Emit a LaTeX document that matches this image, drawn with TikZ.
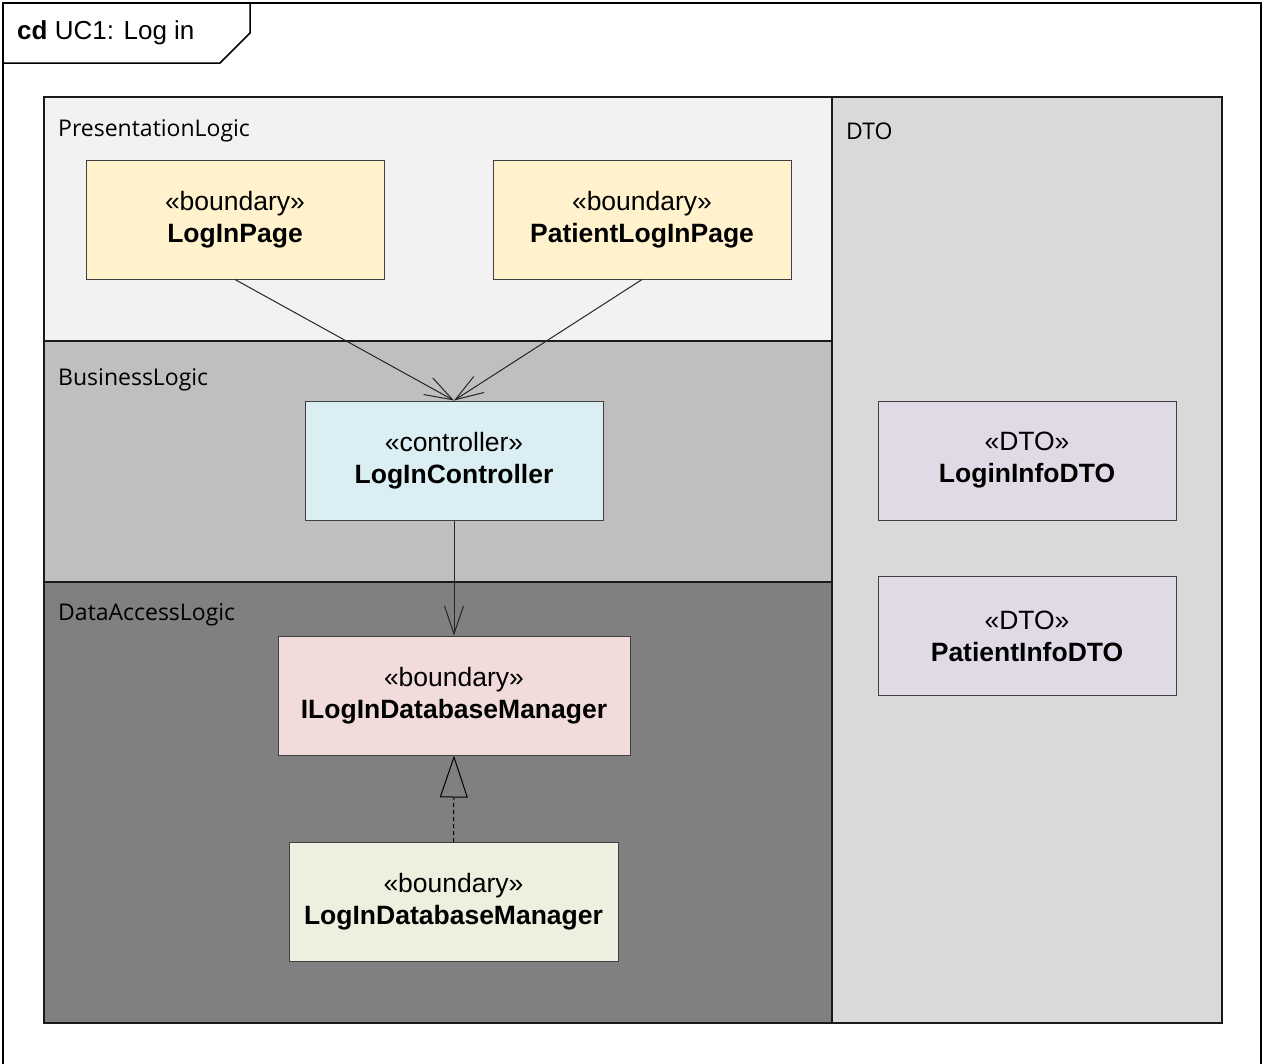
\documentclass[tikz,border=0pt]{standalone}
\usepackage{fontspec}
\setmainfont{Liberation Sans}
\newfontfamily\pkgfont{Open Sans}
\usetikzlibrary{arrows.meta}
\definecolor{presbg}{HTML}{F2F2F2}
\definecolor{busbg}{HTML}{BFBFBF}
\definecolor{databg}{HTML}{808080}
\definecolor{dtobg}{HTML}{D9D9D9}
\definecolor{yellowbox}{HTML}{FFF2CC}
\definecolor{bluebox}{HTML}{DAEEF3}
\definecolor{pinkbox}{HTML}{F2DCDB}
\definecolor{greenbox}{HTML}{EBF1DE}
\definecolor{lilacbox}{HTML}{E0DAE7}
\definecolor{pkgline}{HTML}{1A1A1A}
\definecolor{boxline}{HTML}{404040}
\tikzset{
  pkg/.style={draw=pkgline, line width=2.5pt},
  pkglabel/.style={anchor=west, inner sep=0pt, font=\pkgfont\fontsize{23}{27}\selectfont},
  classbox/.style={draw=boxline, line width=1pt, minimum width=#1, minimum height=119pt, inner sep=0pt, align=center, font=\fontsize{26.5}{32}\selectfont},
  dep/.style={draw=black!85, line width=1pt, -{Straight Barb[length=28pt,width=19pt,line width=1pt]}},
  real/.style={draw=black, line width=1pt, dashed, dash pattern=on 4pt off 3pt, -{Triangle[open, length=42pt, width=28pt, line width=1pt, fill=databg]}}
}
\begin{document}
\begin{tikzpicture}[x=1pt,y=-1pt]
\useasboundingbox (0,0) rectangle (1265,1063);
\fill[white] (0,0) rectangle (1265,1063);
% outer frame
\draw[line width=1.5pt] (3,1075) -- (3,3) -- (1261,3) -- (1261,1075);
\draw[line width=1.5pt] (3,63) -- (220,63) -- (250,33) -- (250,3);
\node[anchor=west, inner sep=0pt, font=\fontsize{26}{30}\selectfont] (title) at (17,33) {\textbf{cd} UC1: Log in};
% packages
\filldraw[pkg, fill=presbg] (44,97) rectangle (832,341);
\filldraw[pkg, fill=busbg] (44,341) rectangle (832,582);
\filldraw[pkg, fill=databg] (44,582) rectangle (832,1023);
\filldraw[pkg, fill=dtobg] (832,97) rectangle (1222,1023);
\node[pkglabel] (plabel) at (58,131) {PresentationLogic};
\node[pkglabel] (blabel) at (58,380) {BusinessLogic};
\node[pkglabel] (dlabel) at (58,615) {DataAccessLogic};
\node[pkglabel] (dtolabel) at (846,131) {DTO};
% classes
\node[classbox=298pt, fill=yellowbox] (loginpage) at (235,219.5) {«boundary»\\\textbf{LogInPage}};
\node[classbox=298pt, fill=yellowbox] (patientpage) at (642,219.5) {«boundary»\\\textbf{PatientLogInPage}};
\node[classbox=298pt, fill=bluebox] (controller) at (454,460.5) {«controller»\\\textbf{LogInController}};
\node[classbox=352pt, fill=pinkbox] (ilogdb) at (454,695.5) {«boundary»\\\textbf{ILogInDatabaseManager}};
\node[classbox=329pt, fill=greenbox] (logdb) at (453.5,902) {«boundary»\\\textbf{LogInDatabaseManager}};
\node[classbox=298pt, fill=lilacbox] (logininfo) at (1027,460.5) {«DTO»\\\textbf{LoginInfoDTO}};
\node[classbox=298pt, fill=lilacbox] (patientinfo) at (1027,636) {«DTO»\\\textbf{PatientInfoDTO}};
% connectors
\draw[dep] (loginpage.south) -- (controller.north);
\draw[dep] (patientpage.south) -- (controller.north);
\draw[dep] (controller.south) -- (ilogdb.north);
\draw[real] (logdb.north) -- (ilogdb.south);
\end{tikzpicture}
\end{document}
